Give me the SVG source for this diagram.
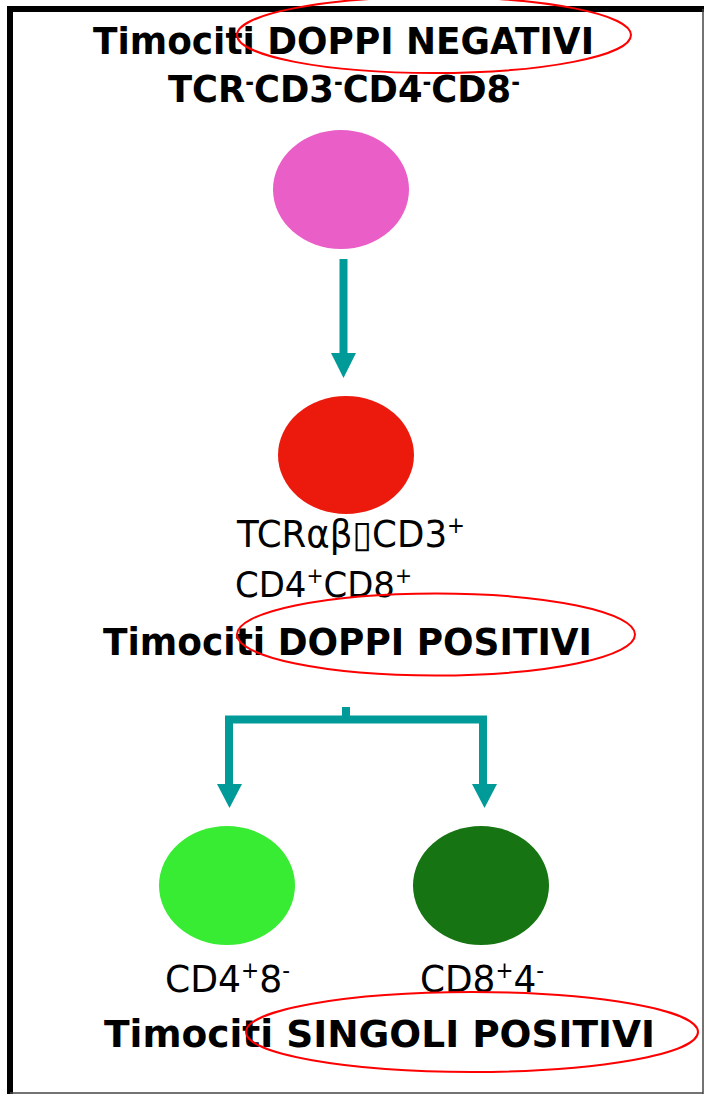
<svg xmlns="http://www.w3.org/2000/svg" width="704" height="1096" viewBox="0 0 704 1096">
  <style>
    .t { font-family: "DejaVu Sans", "Liberation Sans", sans-serif; fill: #000; }
    .b { font-weight: bold; }
    .sup { font-size: 60%; }
    .ring { fill: none; stroke: #f00; stroke-width: 2; }
    .flow { fill: none; stroke: #009b99; stroke-width: 8; }
    .head { fill: #009b99; }
  </style>

  <!-- frame -->
  <rect x="0" y="0" width="704" height="1096" fill="#fff"/>
  <g id="frame">
    <line x1="10" y1="9" x2="704" y2="9" stroke="#000" stroke-width="6"/>
    <line x1="10" y1="6" x2="10" y2="1094" stroke="#000" stroke-width="6"/>
    <line x1="703" y1="9" x2="703" y2="1094" stroke="#444" stroke-width="1.5"/>
    <line x1="10" y1="1093" x2="703" y2="1093" stroke="#444" stroke-width="1.5"/>
  </g>

  <!-- connectors -->
  <g id="connectors">
    <line class="flow" x1="343.5" y1="259" x2="343.5" y2="356" stroke-width="9"/>
    <polygon class="head" points="331,353 356,353 343.5,378"/>
    <rect class="head" x="342" y="707" width="8" height="10"/>
    <polyline class="flow" points="229,788 229,719.5 483,719.5 483,788"/>
    <polygon class="head" points="217,784 242,784 229.5,808"/>
    <polygon class="head" points="472,784 497,784 484.5,808"/>
  </g>

  <!-- double negative thymocytes -->
  <g id="dn">
    <text class="t b" x="93" y="54" font-size="38" textLength="501" lengthAdjust="spacingAndGlyphs">Timociti DOPPI NEGATIVI</text>
    <ellipse class="ring" cx="434" cy="35" rx="197" ry="38"/>
    <text class="t b" x="168" y="102" font-size="37" textLength="352" lengthAdjust="spacingAndGlyphs">TCR<tspan class="sup" dy="-12">-</tspan><tspan dy="12">CD3</tspan><tspan class="sup" dy="-12">-</tspan><tspan dy="12">CD4</tspan><tspan class="sup" dy="-12">-</tspan><tspan dy="12">CD8</tspan><tspan class="sup" dy="-12">-</tspan></text>
    <ellipse cx="341" cy="189.5" rx="68" ry="59.5" fill="#ea5ec8"/>
  </g>

  <!-- double positive thymocytes -->
  <g id="dp">
    <ellipse cx="346" cy="455" rx="68" ry="59" fill="#ec1a0c"/>
    <text class="t" x="237" y="547" font-size="37" textLength="228" lengthAdjust="spacingAndGlyphs">TCRαβ▯CD3<tspan class="sup" dy="-14">+</tspan></text>
    <text class="t" x="235" y="597" font-size="36" textLength="177" lengthAdjust="spacingAndGlyphs">CD4<tspan class="sup" dy="-14">+</tspan><tspan dy="14">CD8</tspan><tspan class="sup" dy="-14">+</tspan></text>
    <text class="t b" x="103" y="655" font-size="37" textLength="489" lengthAdjust="spacingAndGlyphs">Timociti DOPPI POSITIVI</text>
    <ellipse class="ring" cx="436" cy="634.5" rx="199" ry="41"/>
  </g>

  <!-- single positive CD4 -->
  <g id="sp-cd4">
    <ellipse cx="227" cy="885.5" rx="68" ry="59.5" fill="#38eb33"/>
    <text class="t" x="165" y="992" font-size="37" textLength="125" lengthAdjust="spacingAndGlyphs">CD4<tspan class="sup" dy="-14">+</tspan><tspan dy="14">8</tspan><tspan class="sup" dy="-14">-</tspan></text>
  </g>

  <!-- single positive CD8 -->
  <g id="sp-cd8">
    <ellipse cx="481" cy="885.5" rx="68" ry="59.5" fill="#167512"/>
    <text class="t" x="420" y="992" font-size="37" textLength="124" lengthAdjust="spacingAndGlyphs">CD8<tspan class="sup" dy="-14">+</tspan><tspan dy="14">4</tspan><tspan class="sup" dy="-14">-</tspan></text>
  </g>

  <g id="sp-label">
    <text class="t b" x="104" y="1047" font-size="37" textLength="551" lengthAdjust="spacingAndGlyphs">Timociti SINGOLI POSITIVI</text>
    <ellipse class="ring" cx="472" cy="1032" rx="226" ry="40"/>
  </g>
</svg>
